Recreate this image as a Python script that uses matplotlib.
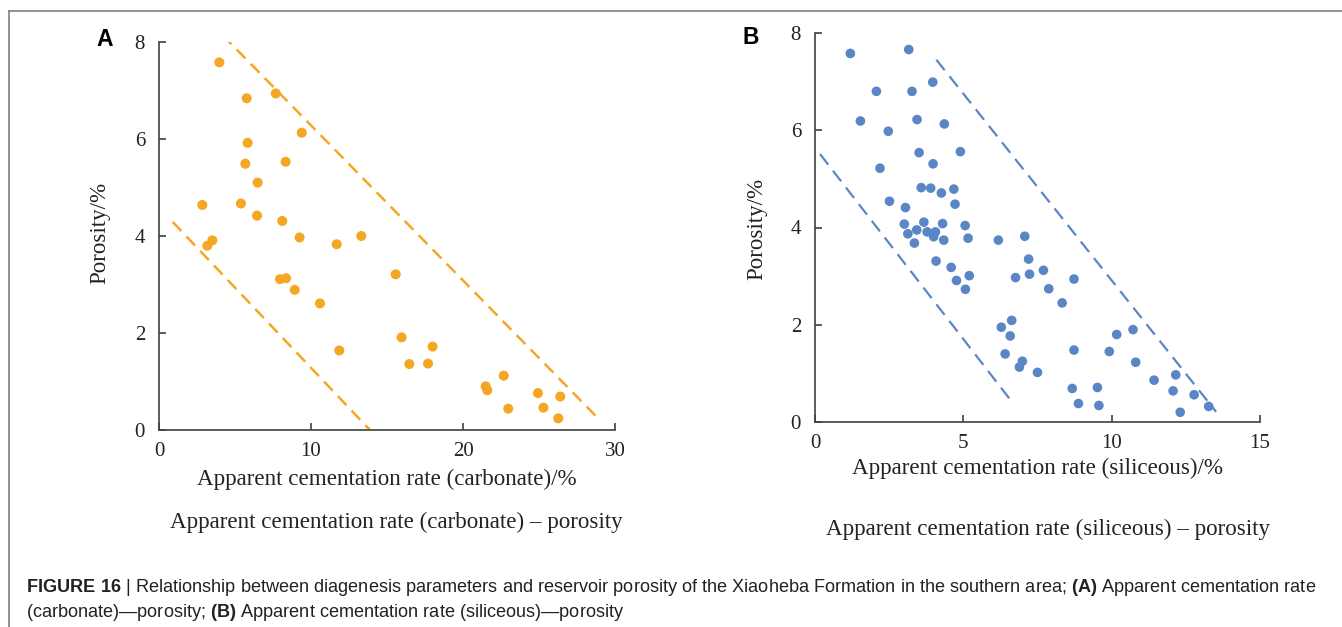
import matplotlib
matplotlib.use('Agg')
import matplotlib.pyplot as plt
from matplotlib.lines import Line2D

W, H = 1342, 627

# panel A: apparent cementation rate (carbonate) vs porosity
carb_x = [3.97, 5.77, 7.68, 9.39, 5.83, 5.68, 8.33, 6.49, 2.85, 5.39, 6.45, 8.11,
          9.25, 11.69, 13.31, 3.51, 3.18, 7.96, 8.36, 8.93, 10.59, 15.57, 15.96,
          11.86, 18.0, 16.47, 17.70, 22.68, 21.49, 21.6, 24.93, 26.4, 22.98, 25.29, 26.27]
carb_y = [7.58, 6.84, 6.94, 6.13, 5.92, 5.49, 5.53, 5.10, 4.64, 4.67, 4.42, 4.31,
          3.97, 3.83, 4.00, 3.91, 3.80, 3.11, 3.13, 2.89, 2.61, 3.21, 1.91,
          1.64, 1.72, 1.36, 1.37, 1.12, 0.90, 0.82, 0.76, 0.69, 0.44, 0.46, 0.24]
carb_upper = ([4.19, 28.86], [8.14, 0.25])
carb_lower = ([0.90, 13.88], [4.29, 0.0])

# panel B: apparent cementation rate (siliceous) vs porosity
sil_x = [1.19, 3.16, 3.97, 2.07, 3.27, 1.53, 3.44, 4.36, 2.47, 3.51, 4.90, 2.19,
         3.98, 3.58, 3.90, 4.68, 4.26, 4.72, 2.51, 3.05, 3.01, 3.67, 4.30, 5.06,
         3.13, 3.43, 3.78, 4.06, 4.00, 4.34, 5.16, 3.35, 6.18, 7.07, 4.08, 4.59,
         7.20, 5.20, 4.77, 5.07, 6.76, 7.23, 7.70, 8.73, 7.88, 8.33, 6.63, 6.28,
         6.58, 6.41, 6.99, 6.89, 7.50, 8.73, 9.92, 10.17, 10.72, 10.81, 11.43,
         12.16, 12.07, 12.78, 13.27, 12.31, 8.67, 9.52, 8.88, 9.57]
sil_y = [7.58, 7.66, 6.99, 6.80, 6.80, 6.19, 6.22, 6.13, 5.98, 5.54, 5.56, 5.22,
         5.31, 4.82, 4.81, 4.79, 4.71, 4.48, 4.54, 4.41, 4.07, 4.11, 4.08, 4.04,
         3.87, 3.95, 3.91, 3.91, 3.81, 3.74, 3.78, 3.68, 3.74, 3.82, 3.31, 3.18,
         3.35, 3.01, 2.91, 2.73, 2.97, 3.04, 3.12, 2.94, 2.74, 2.45, 2.09, 1.95,
         1.77, 1.40, 1.25, 1.13, 1.02, 1.48, 1.45, 1.80, 1.90, 1.23, 0.86,
         0.97, 0.64, 0.56, 0.32, 0.20, 0.69, 0.71, 0.38, 0.34]
sil_upper = ([4.09, 13.52], [7.45, 0.21])
sil_lower = ([0.17, 6.67], [5.51, 0.39])

orange = '#F5A623'
blue = '#5A86C5'
axis_col = '#404040'
serif = 'Liberation Serif'

plt.rcParams['mathtext.fontset'] = 'custom'
plt.rcParams['mathtext.rm'] = 'Liberation Sans'
plt.rcParams['mathtext.bf'] = 'Liberation Sans:bold'


def fx(x):
    return x / W


def fy(y):
    return 1 - y / H


def style(ax, xmax, xstep):
    ax.set_xlim(0, xmax)
    ax.set_ylim(0, 8)
    ax.set_xticks(range(0, xmax + 1, xstep))
    ax.set_yticks([0, 2, 4, 6, 8])
    for s in ['top', 'right']:
        ax.spines[s].set_visible(False)
    for s in ['left', 'bottom']:
        ax.spines[s].set_color(axis_col)
        ax.spines[s].set_linewidth(1.2)
    ax.tick_params(direction='in', length=5, width=1.2, color=axis_col,
                   labelsize=15, labelcolor='#222222')
    ax.tick_params(axis='y', pad=10)
    ax.tick_params(axis='x', pad=8.5)
    for lab in ax.get_xticklabels() + ax.get_yticklabels():
        lab.set_family(serif)
    ax.patch.set_visible(False)


fig = plt.figure(figsize=(W / 100, H / 100), dpi=100)

axA = fig.add_axes([fx(159), fy(430), 456 / W, 388 / H])
axA.plot(*carb_upper, color=orange, lw=1.8, dashes=(5, 3))
axA.plot(*carb_lower, color=orange, lw=1.8, dashes=(5, 3))
axA.scatter(carb_x, carb_y, s=52, color=orange, edgecolors='none', zorder=3)
style(axA, 30, 10)

axB = fig.add_axes([fx(815), fy(422), 445 / W, 389 / H])
axB.plot(*sil_upper, color=blue, lw=1.6, dashes=(6, 3.5))
axB.plot(*sil_lower, color=blue, lw=1.6, dashes=(6, 3.5))
axB.scatter(sil_x, sil_y, s=48, color=blue, edgecolors='none', zorder=3)
style(axB, 15, 5)

txt = dict(family=serif, fontsize=16.6, color='#222222', ha='center', va='center')
fig.text(fx(387), fy(479), 'Apparent cementation rate (carbonate)/%', **txt)
fig.text(fx(100), fy(233), 'Porosity/%', rotation=90, **txt)
fig.text(fx(396), fy(522), 'Apparent cementation rate (carbonate) \u2013 porosity', **txt)

fig.text(fx(1037), fy(468), 'Apparent cementation rate (siliceous)/%', **txt)
fig.text(fx(757), fy(229), 'Porosity/%', rotation=90, **txt)
fig.text(fx(1048), fy(529), 'Apparent cementation rate (siliceous) \u2013 porosity', **txt)

fig.text(fx(105), fy(39), 'A', family='Liberation Sans', weight='bold',
         fontsize=16.5, ha='center', va='center')
fig.text(fx(751), fy(37), 'B', family='Liberation Sans', weight='bold',
         fontsize=16.5, ha='center', va='center')

# frame lines of the figure box
fig.add_artist(Line2D([fx(9), 1], [fy(11), fy(11)], color='#808080', lw=1.2))
fig.add_artist(Line2D([fx(9), fx(9)], [fy(11), 0], color='#808080', lw=1.2))

cap = dict(family='Liberation Sans', fontsize=13.1, color='#222222', ha='left', va='baseline')
fig.text(fx(26), fy(592),
         r'$\mathbf{FIGURE\ 16}$ | Relationship between diagenesis parameters and reservoir '
         r'porosity of the Xiaoheba Formation in the southern area; $\mathbf{(A)}$ Apparent '
         r'cementation rate', **cap)
fig.text(fx(26), fy(617),
         '(carbonate)\u2014porosity; $\\mathbf{(B)}$ Apparent cementation rate (siliceous)'
         '\u2014porosity', **cap)

fig.savefig('out.png', dpi=100)
